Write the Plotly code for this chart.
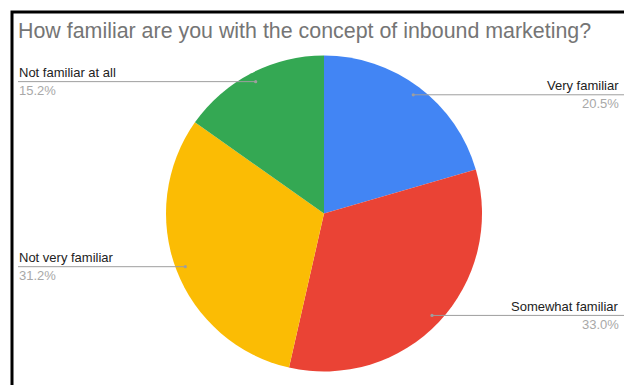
import math
import plotly.graph_objects as go

# Survey answers, clockwise from 12 o'clock
categories = ["Very familiar", "Somewhat familiar", "Not very familiar", "Not familiar at all"]
shares = [20.5, 33.0, 31.2, 15.2]
colors = ["#4285F4", "#EA4335", "#FBBC04", "#34A853"]
title = "How familiar are you with the concept of inbound marketing?"

W, H = 624, 385
CX, CY, R = 324, 213.5, 158   # pie centre and radius in pixels


def px(x):
    return x / W


def py(y):
    return 1 - y / H


fig = go.Figure(go.Pie(
    labels=categories,
    values=shares,
    marker=dict(colors=colors, line=dict(width=0)),
    sort=False,
    direction="clockwise",
    rotation=0,
    textinfo="none",
    hoverinfo="label+percent",
    showlegend=False,
    domain=dict(x=[px(CX - R), px(CX + R)], y=[py(CY + R), py(CY - R)]),
))

shapes = []
annotations = []

# Leader lines with a dot inside each slice, label above the line, share below
total = sum(shares)
cum = 0.0
for name, v in zip(categories, shares):
    mid = (cum + v / 2) / total * 2 * math.pi
    cum += v
    dx, dy = CX + 0.94 * R * math.sin(mid), CY - 0.94 * R * math.cos(mid)
    right = math.sin(mid) > 0
    line_end = 630 if right else 18
    text_x = 621 if right else 17
    shapes.append(dict(type="line", xref="paper", yref="paper",
                       x0=px(dx), x1=px(line_end), y0=py(dy), y1=py(dy),
                       line=dict(color="#9e9e9e", width=1)))
    shapes.append(dict(type="circle", xref="paper", yref="paper",
                       x0=px(dx - 1.6), x1=px(dx + 1.6), y0=py(dy + 1.6), y1=py(dy - 1.6),
                       fillcolor="#9e9e9e", line=dict(width=0)))
    anchor = "right" if right else "left"
    annotations.append(dict(text=name, xref="paper", yref="paper",
                            x=px(text_x), y=py(dy - 9), xanchor=anchor, yanchor="middle",
                            showarrow=False, align=anchor,
                            font=dict(family="Liberation Sans, Arial", size=13, color="#222222")))
    annotations.append(dict(text=f"{v:.1f}%", xref="paper", yref="paper",
                            x=px(text_x), y=py(dy + 9), xanchor=anchor, yanchor="middle",
                            showarrow=False, align=anchor,
                            font=dict(family="Liberation Sans, Arial", size=13, color="#a8a8a8")))

# Title
annotations.append(dict(text=title, xref="paper", yref="paper",
                        x=px(16), y=py(31), xanchor="left", yanchor="middle",
                        showarrow=False,
                        font=dict(family="Liberation Sans, Arial", size=21.4, color="#757575")))

# Black frame around the chart area
shapes.append(dict(type="rect", xref="paper", yref="paper",
                   x0=px(12), x1=px(W + 20), y0=py(12), y1=py(H + 20),
                   line=dict(color="#000000", width=3), fillcolor="rgba(0,0,0,0)", layer="above"))

fig.update_layout(
    width=W, height=H, autosize=False,
    margin=dict(l=0, r=0, t=0, b=0),
    paper_bgcolor="#ffffff", plot_bgcolor="#ffffff",
    shapes=shapes, annotations=annotations,
)

fig.write_html("out.html", config={"displayModeBar": False})
